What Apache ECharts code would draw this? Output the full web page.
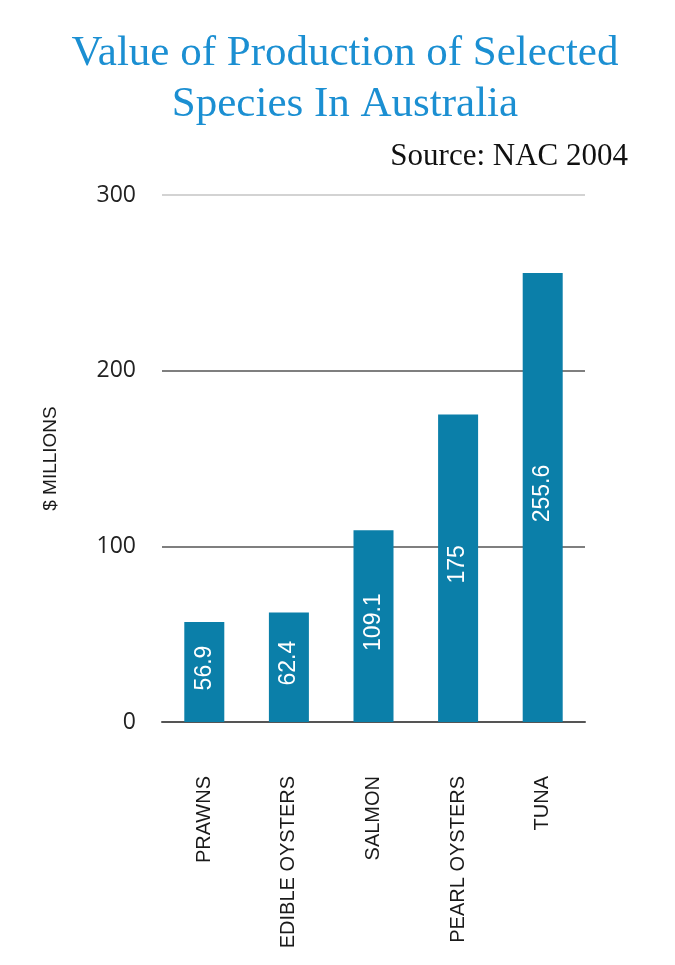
<!DOCTYPE html>
<html>
<head>
<meta charset="utf-8">
<script src="https://cdn.jsdelivr.net/npm/echarts@6/dist/echarts.min.js"></script>
<style>
  html, body { margin: 0; padding: 0; background: #fff; }
  #chart { width: 675px; height: 965px; }
</style>
</head>
<body>
<div id="chart"></div>
<script>
const species = ['PRAWNS', 'EDIBLE OYSTERS', 'SALMON', 'PEARL OYSTERS', 'TUNA']
const production = [56.9, 62.4, 109.1, 175, 255.6]
const yTicks = [0, 100, 200, 300]

const chart = echarts.init(document.getElementById('chart'))

chart.setOption({
  animation: false,
  title: [{
    text: 'Value of Production of Selected\nSpecies In Australia',
    left: 340,
    top: 23,
    textAlign: 'center',
    textStyle: {
      fontFamily: 'Liberation Serif',
      fontWeight: 'normal',
      fontSize: 43,
      lineHeight: 51,
      color: '#1b8fd2'
    }
  }, {
    text: 'Source: NAC 2004',
    right: 42,
    top: 136,
    textStyle: {
      fontFamily: 'Liberation Serif',
      fontWeight: 'normal',
      fontSize: 31,
      color: '#111'
    }
  }],
  grid: {
    left: 162,
    right: 90,
    top: 195,
    bottom: 243
  },
  xAxis: {
    type: 'category',
    data: species,
    axisTick: { show: false },
    axisLine: {
      lineStyle: { color: '#555', width: 2 }
    },
    axisLabel: {
      rotate: 90,
      margin: 54,
      fontFamily: 'Liberation Sans',
      fontSize: 20,
      color: '#1a1a1a'
    }
  },
  yAxis: {
    type: 'value',
    min: yTicks[0],
    max: yTicks[yTicks.length - 1],
    interval: 100,
    name: '$ MILLIONS',
    nameLocation: 'middle',
    nameRotate: 90,
    nameGap: 102,
    nameTextStyle: {
      fontFamily: 'Liberation Sans',
      fontSize: 19,
      color: '#1a1a1a'
    },
    axisLine: { show: false },
    axisTick: { show: false },
    axisLabel: {
      margin: 26,
      fontFamily: 'Open Sans',
      fontSize: 23,
      color: '#222'
    },
    splitLine: {
      lineStyle: {
        color: ['#555', '#555', '#555', '#c4c4c4'],
        width: 1.5
      }
    }
  },
  series: [{
    name: 'Value',
    type: 'bar',
    barWidth: 40,
    data: production,
    itemStyle: { color: '#0b7fa9' },
    label: {
      show: true,
      position: 'inside',
      rotate: 90,
      offset: [4, 0],
      fontFamily: 'Liberation Sans',
      fontSize: 23,
      color: '#fff'
    }
  }]
})
</script>
</body>
</html>
